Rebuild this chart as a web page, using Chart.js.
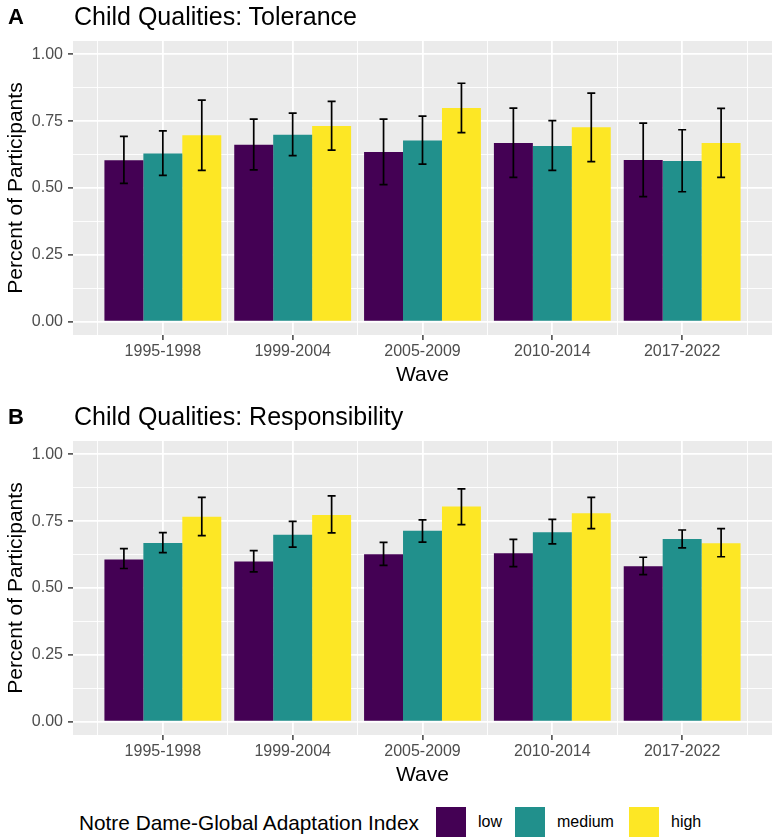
<!DOCTYPE html>
<html><head><meta charset="utf-8">
<script src="https://cdn.jsdelivr.net/npm/chart.js@4/dist/chart.umd.min.js"></script>
<style>
html,body{margin:0;padding:0;background:#fff;}
body{width:773px;height:840px;position:relative;overflow:hidden;font-family:"Liberation Sans",Arial,Helvetica,sans-serif;}
.panel{position:absolute;left:0;width:773px;height:400px;}
.panel canvas{position:absolute;left:0;top:0;}
.tag{position:absolute;left:8px;top:5px;font-weight:bold;font-size:22px;line-height:24px;color:#000;}
.title{position:absolute;left:74px;top:4px;font-size:25px;line-height:24px;color:#000;white-space:nowrap;}
.lg{position:absolute;line-height:30px;white-space:nowrap;color:#000;}
.key{position:absolute;top:807px;width:30px;height:30px;}
</style>
</head><body>
<div class="panel" style="top:0px"><canvas id="cA" width="773" height="400"></canvas><div class="tag">A</div><div class="title">Child Qualities: Tolerance</div></div>
<div class="panel" style="top:400px"><canvas id="cB" width="773" height="400"></canvas><div class="tag">B</div><div class="title">Child Qualities: Responsibility</div></div>
<div class="lg" style="left:79px;top:808px;font-size:20.8px;">Notre Dame-Global Adaptation Index</div>
<div class="key" id="k0" style="left:436px"></div><div class="lg" style="left:478px;top:807px;font-size:16px;">low</div>
<div class="key" id="k1" style="left:515px"></div><div class="lg" style="left:557px;top:807px;font-size:16px;">medium</div>
<div class="key" id="k2" style="left:629px"></div><div class="lg" style="left:671px;top:807px;font-size:16px;">high</div>
<script>
// ---- data ----
const waves = ['1995-1998','1999-2004','2005-2009','2010-2014','2017-2022'];
const groups = ['low','medium','high'];
const yTickValues = [0, 0.25, 0.5, 0.75, 1];

// Panel A: Tolerance
const tolLow    = [0.604, 0.662, 0.635, 0.668, 0.605];
const tolLowLo  = [0.517, 0.568, 0.513, 0.540, 0.468];
const tolLowHi  = [0.693, 0.758, 0.758, 0.799, 0.743];
const tolMed    = [0.629, 0.699, 0.678, 0.657, 0.601];
const tolMedLo  = [0.547, 0.621, 0.589, 0.566, 0.486];
const tolMedHi  = [0.714, 0.780, 0.769, 0.752, 0.718];
const tolHigh   = [0.697, 0.732, 0.799, 0.727, 0.668];
const tolHighLo = [0.566, 0.642, 0.707, 0.599, 0.540];
const tolHighHi = [0.829, 0.824, 0.892, 0.855, 0.798];

// Panel B: Responsibility
const resLow    = [0.607, 0.599, 0.626, 0.630, 0.581];
const resLowLo  = [0.573, 0.560, 0.585, 0.580, 0.550];
const resLowHi  = [0.647, 0.640, 0.671, 0.682, 0.615];
const resMed    = [0.668, 0.699, 0.714, 0.709, 0.683];
const resMedLo  = [0.632, 0.653, 0.672, 0.665, 0.650];
const resMedHi  = [0.707, 0.749, 0.755, 0.757, 0.717];
const resHigh   = [0.767, 0.773, 0.805, 0.780, 0.667];
const resHighLo = [0.696, 0.706, 0.737, 0.722, 0.617];
const resHighHi = [0.839, 0.845, 0.871, 0.839, 0.722];

// ---- styles ----
const groupColors = ['#440154', '#21908C', '#FDE725'];
groupColors.forEach((c,i)=>{ document.getElementById('k'+i).style.background = c; });

const FONT = '"Liberation Sans", Arial, Helvetica, sans-serif';

const panelBg = {
  id:'panelBg',
  beforeDraw(chart){
    const {ctx, chartArea:a} = chart;
    ctx.save(); ctx.fillStyle = '#EBEBEB';
    ctx.fillRect(a.left, a.top, a.right - a.left, a.bottom - a.top);
    ctx.restore();
  }
};

const errorBars = {
  id:'errorBars',
  afterDatasetsDraw(chart){
    const {ctx} = chart; const y = chart.scales.y;
    ctx.save(); ctx.strokeStyle = '#000'; ctx.lineWidth = 1.7; ctx.lineCap = 'butt';
    chart.data.datasets.forEach((ds, di) => {
      const meta = chart.getDatasetMeta(di);
      meta.data.forEach((bar, i) => {
        const x = bar.x;
        const yl = y.getPixelForValue(ds.errLo[i]);
        const yh = y.getPixelForValue(ds.errHi[i]);
        const w = 4;
        ctx.beginPath();
        ctx.moveTo(x, yl); ctx.lineTo(x, yh);
        ctx.moveTo(x - w, yl); ctx.lineTo(x + w, yl);
        ctx.moveTo(x - w, yh); ctx.lineTo(x + w, yh);
        ctx.stroke();
      });
    });
    ctx.restore();
  }
};

function isMajorX(v){ return Math.abs(v - Math.round(v)) < 1e-9; }
function isMajorY(v){ return Math.abs(v*4 - Math.round(v*4)) < 1e-9; }
function tv(c){ return (c && c.tick) ? c.tick.value : null; }

function makeChart(id, vals, los, his){
  const datasets = groups.map((g, gi) => ({
    label: g,
    data: vals[gi].map((v, i) => ({x: i + 1, y: v})),
    errLo: los[gi], errHi: his[gi],
    backgroundColor: groupColors[gi],
    borderWidth: 0,
    // min gap measured by Chart.js is half a category (gridline ticks at .5), so 1.8 x half = 0.9 category
    categoryPercentage: 1.8,
    barPercentage: 1.0
  }));
  const xTicks = [];
  for (let i = 0; i <= waves.length; i++) { xTicks.push(i + 0.5); if (i < waves.length) xTicks.push(i + 1); }
  xTicks.sort((a,b)=>a-b);
  const yTicks = [];
  for (let k = 0; k < yTickValues.length; k++) { yTicks.push(yTickValues[k]); if (k < yTickValues.length - 1) yTicks.push((yTickValues[k] + yTickValues[k+1]) / 2); }
  yTicks.sort((a,b)=>a-b);

  return new Chart(document.getElementById(id), {
    type: 'bar',
    data: { datasets },
    options: {
      responsive: false,
      animation: false,
      events: [],
      layout: { padding: { top: 41, left: 0, right: 1, bottom: 0 } },
      plugins: { legend: { display: false }, tooltip: { enabled: false }, title: { display: false } },
      scales: {
        x: {
          type: 'linear', bounds: 'data', offset: false,
          min: 1 - 0.692, max: waves.length + 0.692,
          afterBuildTicks: s => { s.ticks = xTicks.map(v => ({value: v})); },
          afterFit: s => { s.height = 65; },
          ticks: {
            autoSkip: false, maxRotation: 0, minRotation: 0,
            color: '#4D4D4D', font: { family: FONT, size: 16 }, padding: 2,
            callback: v => isMajorX(v) ? waves[Math.round(v) - 1] : ''
          },
          grid: {
            offset: false,
            color: '#FFFFFF',
            lineWidth: c => { const v = tv(c); return (v === null || isMajorX(v)) ? 1.8 : 0.9; },
            tickLength: 5,
            tickColor: c => { const v = tv(c); return (v !== null && isMajorX(v)) ? '#333333' : 'rgba(0,0,0,0)'; },
            tickWidth: 1.4
          },
          border: { display: false },
          title: { display: true, text: 'Wave', color: '#000', font: { family: FONT, size: 21 }, padding: { top: 0, bottom: 12 } }
        },
        y: {
          type: 'linear', bounds: 'data',
          min: -0.05, max: 1.05,
          afterBuildTicks: s => { s.ticks = yTicks.map(v => ({value: v})); },
          afterFit: s => { s.width = 73; },
          ticks: {
            autoSkip: false,
            color: '#4D4D4D', font: { family: FONT, size: 16 }, padding: 5,
            callback: v => isMajorY(v) ? v.toFixed(2) : ''
          },
          grid: {
            color: '#FFFFFF',
            lineWidth: c => { const v = tv(c); return (v === null || isMajorY(v)) ? 1.8 : 0.9; },
            tickLength: 5,
            tickColor: c => { const v = tv(c); return (v !== null && isMajorY(v)) ? '#333333' : 'rgba(0,0,0,0)'; },
            tickWidth: 1.4
          },
          border: { display: false },
          title: { display: true, text: 'Percent of Participants', color: '#000', font: { family: FONT, size: 21 }, padding: { top: 4, bottom: 0 } }
        }
      }
    },
    plugins: [panelBg, errorBars]
  });
}

makeChart('cA', [tolLow, tolMed, tolHigh], [tolLowLo, tolMedLo, tolHighLo], [tolLowHi, tolMedHi, tolHighHi]);
makeChart('cB', [resLow, resMed, resHigh], [resLowLo, resMedLo, resHighLo], [resLowHi, resMedHi, resHighHi]);
</script>
</body></html>
